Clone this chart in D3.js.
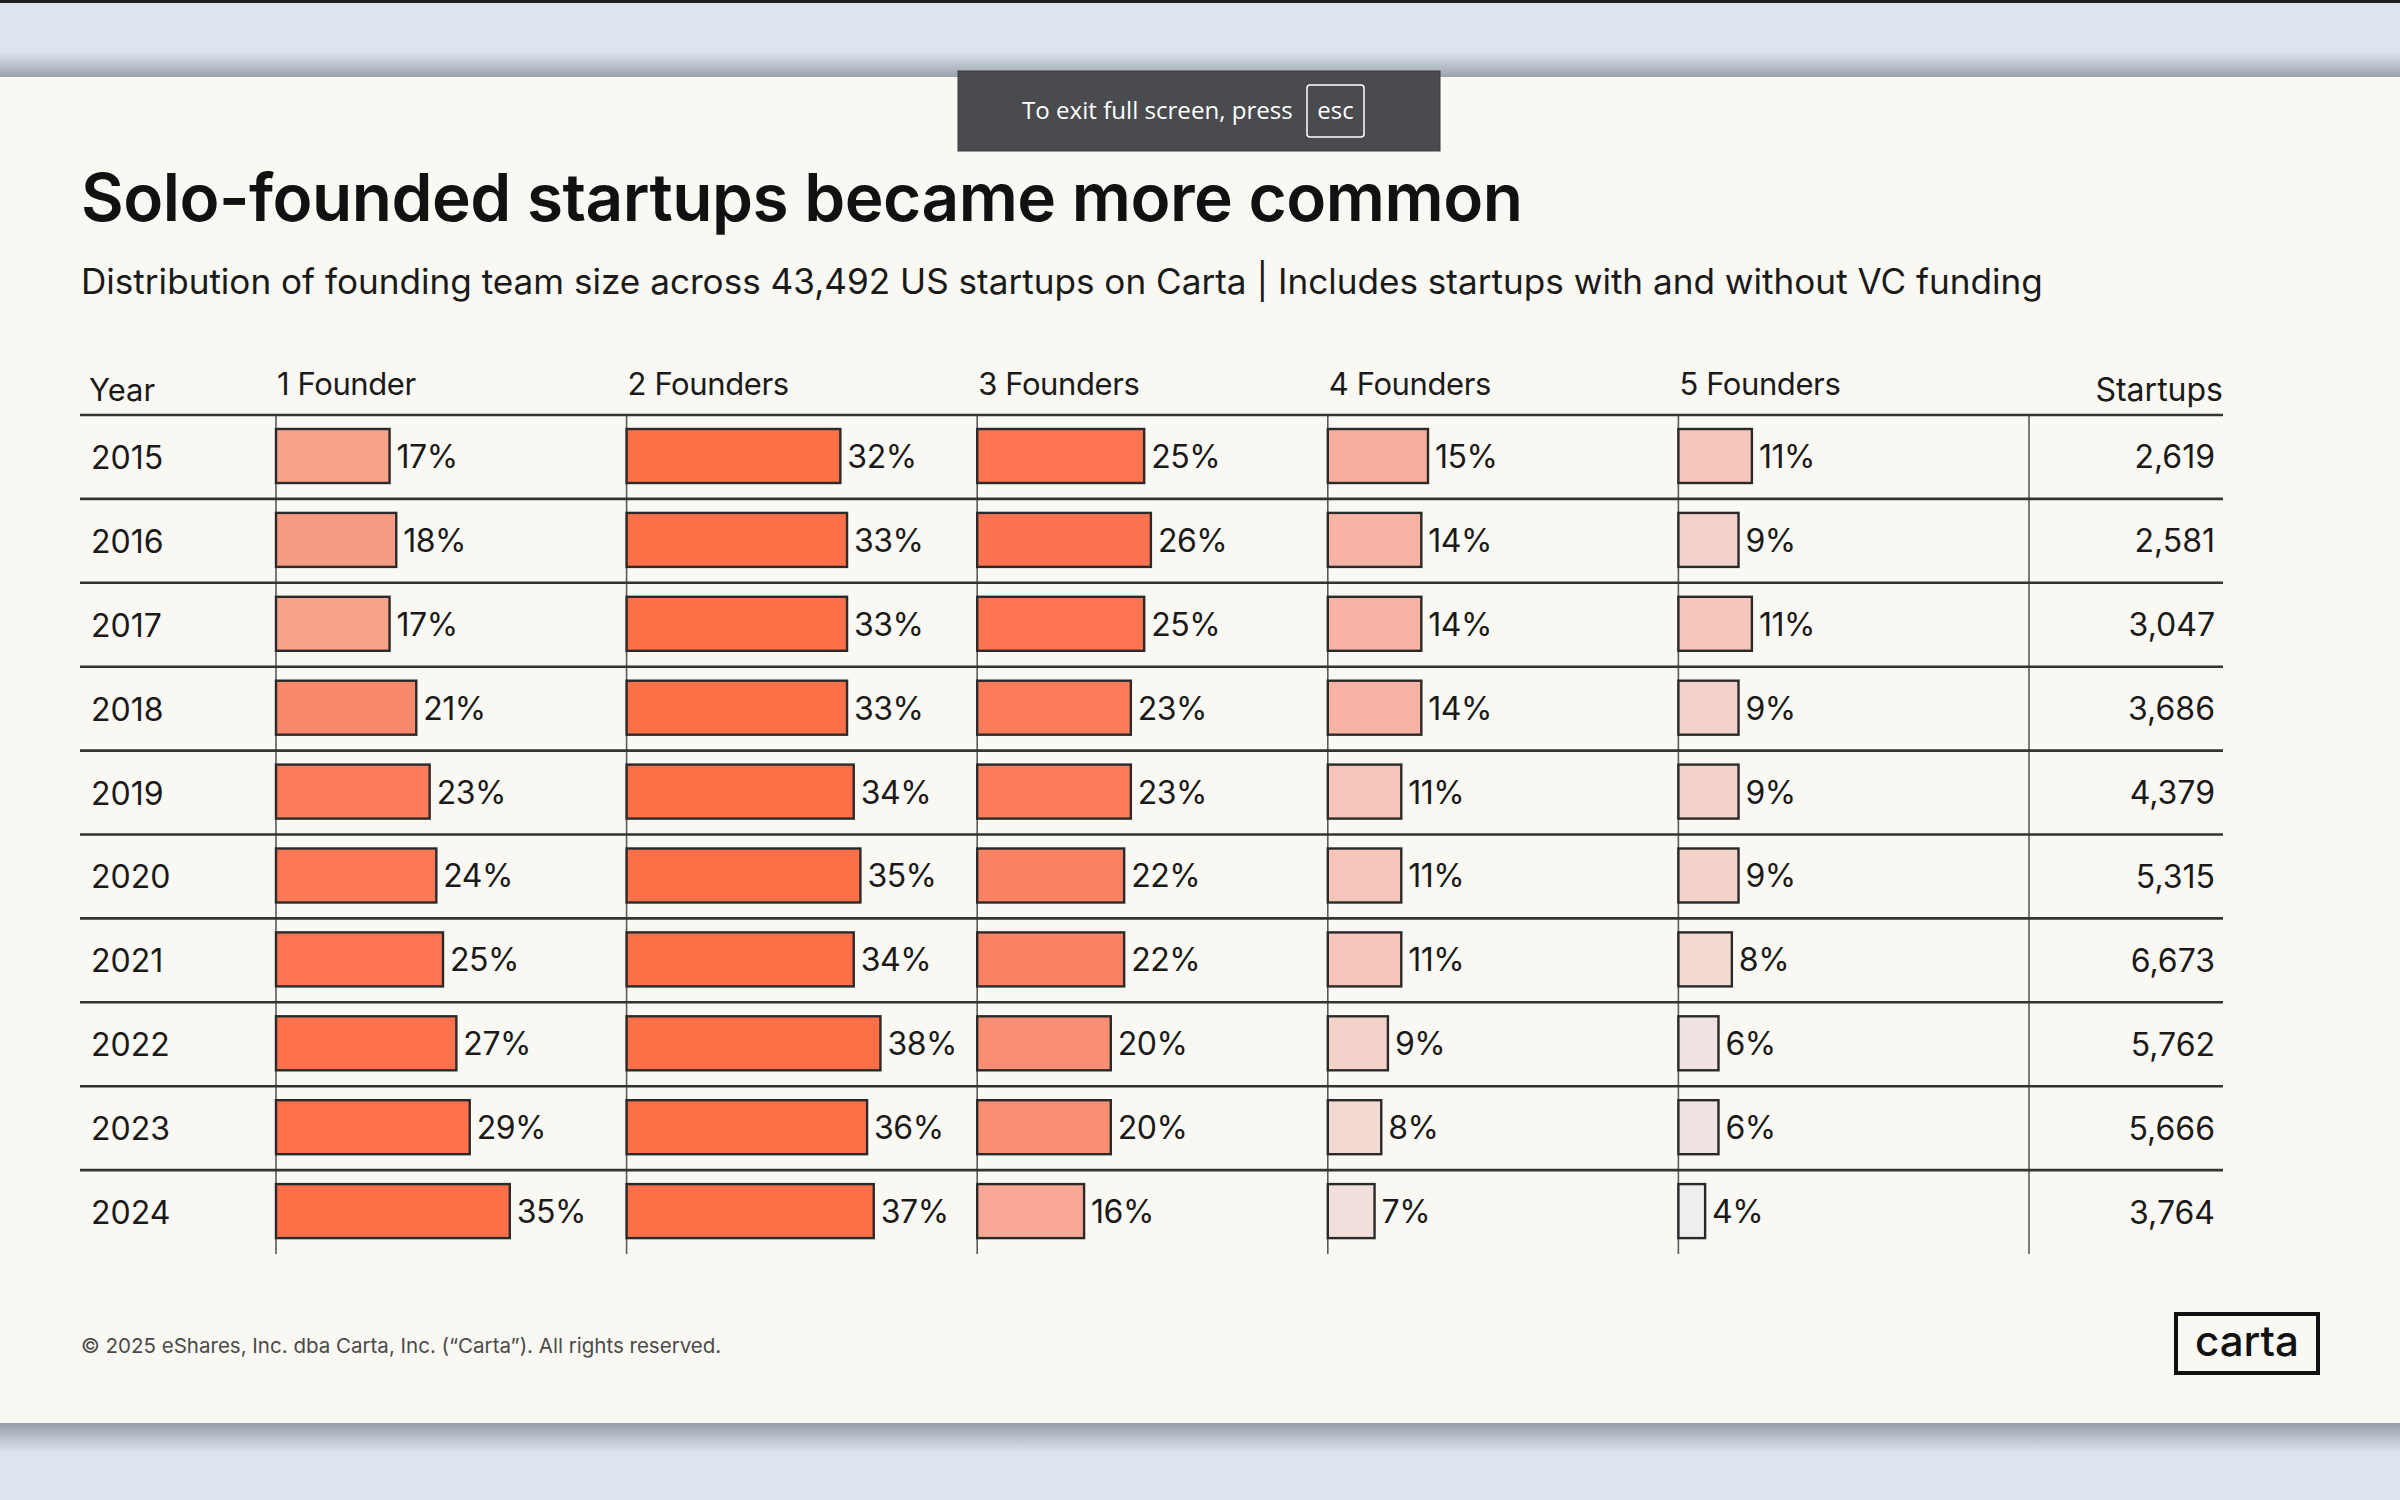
<!DOCTYPE html>
<html>
<head>
<meta charset="utf-8">
<script src="https://cdn.jsdelivr.net/npm/d3@7"></script>
<style>
  html, body { margin: 0; padding: 0; background: #dce5ef; }
  svg { display: block; }
</style>
</head>
<body>
<svg id="chart" width="2400" height="1500"></svg>
<script>
// ---------- data ----------
const years = [2015, 2016, 2017, 2018, 2019, 2020, 2021, 2022, 2023, 2024];
const columnLabels = ["1 Founder", "2 Founders", "3 Founders", "4 Founders", "5 Founders"];
const founders1 = [17, 18, 17, 21, 23, 24, 25, 27, 29, 35];
const founders2 = [32, 33, 33, 33, 34, 35, 34, 38, 36, 37];
const founders3 = [25, 26, 25, 23, 23, 22, 22, 20, 20, 16];
const founders4 = [15, 14, 14, 14, 11, 11, 11, 9, 8, 7];
const founders5 = [11, 9, 11, 9, 9, 9, 8, 6, 6, 4];
const startups = [2619, 2581, 3047, 3686, 4379, 5315, 6673, 5762, 5666, 3764];

const titleText = "Solo-founded startups became more common";
const subtitleText = "Distribution of founding team size across 43,492 US startups on Carta | Includes startups with and without VC funding";
const footerText = "\u00A9 2025 eShares, Inc. dba Carta, Inc. (\u201CCarta\u201D). All rights reserved.";

const series = [founders1, founders2, founders3, founders4, founders5];

// ---------- layout ----------
const W = 2400, H = 1500;
const FONT = "Inter, 'Noto Sans', sans-serif";
const svg = d3.select("#chart");

const defs = svg.append("defs");
const gTop = defs.append("linearGradient").attr("id", "shTop").attr("x1", 0).attr("x2", 0).attr("y1", 0).attr("y2", 1);
gTop.append("stop").attr("offset", 0).attr("stop-color", "#dce5ef");
gTop.append("stop").attr("offset", 1).attr("stop-color", "#9aa1ab");
const gBot = defs.append("linearGradient").attr("id", "shBot").attr("x1", 0).attr("x2", 0).attr("y1", 0).attr("y2", 1);
gBot.append("stop").attr("offset", 0).attr("stop-color", "#979ea8");
gBot.append("stop").attr("offset", 1).attr("stop-color", "#dce5ef");

// backdrop
svg.append("rect").attr("width", W).attr("height", H).attr("fill", "#dce5ef");
svg.append("rect").attr("x", 0).attr("y", 0).attr("width", W).attr("height", 3).attr("fill", "#1f1f22");
svg.append("rect").attr("x", 0).attr("y", 52).attr("width", W).attr("height", 25).attr("fill", "url(#shTop)");
svg.append("rect").attr("x", 0).attr("y", 1423).attr("width", W).attr("height", 30).attr("fill", "url(#shBot)");
// panel
svg.append("rect").attr("x", 0).attr("y", 77).attr("width", W).attr("height", 1346).attr("fill", "#faf8f3");

function fitWidth(sel, target) {
  const w = sel.node().getComputedTextLength();
  const fs = parseFloat(sel.attr("font-size"));
  sel.attr("font-size", fs * target / w);
}

// title & subtitle
const title = svg.append("text").attr("x", 81).attr("y", 221)
  .attr("font-family", FONT).attr("font-weight", 600).attr("font-size", 67)
  .attr("fill", "#111").attr("letter-spacing", -0.5).text(titleText);
fitWidth(title, 1442);
const subtitle = svg.append("text").attr("x", 81).attr("y", 294)
  .attr("font-family", FONT).attr("font-weight", 400).attr("font-size", 31)
  .attr("fill", "#1a1a1a").text(subtitleText);
fitWidth(subtitle, 1962);

// ---------- table scales ----------
const tableLeft = 80, tableRight = 2223;
const y = d3.scaleBand().domain(years).range([415, 1254]);
const col = d3.scaleBand().domain(columnLabels).range([276, 2029]);
const barW = d3.scaleLinear().domain([0, 100]).range([0, 668]);
const color = d3.scaleLinear()
  .domain([4, 7, 9, 11, 14, 17, 20, 23, 25, 30])
  .range(["#eeedef", "#f1dfdb", "#f3d2c9", "#f5c5b9", "#f7b4a4", "#f8a28c", "#f98e74", "#fc7c5a", "#fe7450", "#ff7049"])
  .clamp(true);

const g = svg.append("g");

// header labels
g.append("text").attr("x", 89).attr("y", 401).attr("font-family", FONT).attr("font-size", 31)
  .attr("fill", "#1a1a1a").text("Year");
g.selectAll("text.colhead").data(columnLabels).join("text").attr("class", "colhead")
  .attr("x", d => col(d) + 1).attr("y", 395).attr("font-family", FONT).attr("font-size", 31)
  .attr("fill", "#1a1a1a").attr("letter-spacing", -0.4).text(d => d);
g.append("text").attr("x", tableRight).attr("y", 401).attr("text-anchor", "end")
  .attr("font-family", FONT).attr("font-size", 32).attr("fill", "#1a1a1a").text("Startups");

// vertical column lines
const vxs = columnLabels.map(d => col(d)).concat([col.range()[1]]);
g.selectAll("line.v").data(vxs).join("line").attr("class", "v")
  .attr("x1", d => d).attr("x2", d => d).attr("y1", y.range()[0]).attr("y2", y.range()[1])
  .attr("stroke", "#5a5a5a").attr("stroke-width", 1.6);

// horizontal row lines (top of each row)
g.selectAll("line.h").data(years).join("line").attr("class", "h")
  .attr("x1", tableLeft).attr("x2", tableRight).attr("y1", d => y(d)).attr("y2", d => y(d))
  .attr("stroke", "#333").attr("stroke-width", 2.6);

// year labels
g.selectAll("text.year").data(years).join("text").attr("class", "year")
  .attr("x", 91).attr("y", d => y(d) + y.bandwidth() / 2 + 12)
  .attr("font-family", FONT).attr("font-size", 32).attr("fill", "#1a1a1a").text(d => d);

// bars
const cells = [];
series.forEach((vals, ci) => vals.forEach((v, ri) => cells.push({ col: columnLabels[ci], year: years[ri], v })));

g.selectAll("rect.bar").data(cells).join("rect").attr("class", "bar")
  .attr("x", d => col(d.col))
  .attr("y", d => y(d.year) + 14)
  .attr("width", d => barW(d.v))
  .attr("height", 54)
  .attr("fill", d => color(d.v))
  .attr("stroke", "#2a2a2a").attr("stroke-width", 2.4);

g.selectAll("text.val").data(cells).join("text").attr("class", "val")
  .attr("x", d => col(d.col) + barW(d.v) + 7)
  .attr("y", d => y(d.year) + y.bandwidth() / 2 + 11)
  .attr("font-family", FONT).attr("font-size", 32).attr("letter-spacing", -0.5)
  .attr("fill", "#1a1a1a").text(d => d.v + "%");

// startups column
g.selectAll("text.cnt").data(years).join("text").attr("class", "cnt")
  .attr("x", 2215).attr("y", (d) => y(d) + y.bandwidth() / 2 + 11.5).attr("text-anchor", "end")
  .attr("font-family", FONT).attr("font-size", 32).attr("fill", "#1a1a1a")
  .text((d, i) => d3.format(",")(startups[i]));

// footer
const foot = svg.append("text").attr("x", 81).attr("y", 1353)
  .attr("font-family", FONT).attr("font-size", 21).attr("fill", "#4a4a4a").text(footerText);
fitWidth(foot, 641);

// logo
svg.append("rect").attr("x", 2176).attr("y", 1314).attr("width", 142).attr("height", 59)
  .attr("fill", "none").attr("stroke", "#111").attr("stroke-width", 4);
const logo = svg.append("text").attr("x", 2247).attr("y", 1356).attr("text-anchor", "middle")
  .attr("font-family", FONT).attr("font-weight", 500).attr("font-size", 44).attr("fill", "#111").text("carta");
fitWidth(logo, 104);

// fullscreen notice
svg.append("rect").attr("x", 958).attr("y", 71).attr("width", 482).attr("height", 80)
  .attr("fill", "#4a4b4f").attr("stroke", "#3c3d40").attr("stroke-width", 1);
const note = svg.append("text").attr("x", 1022).attr("y", 119).attr("font-family", "'Open Sans', sans-serif")
  .attr("font-size", 24).attr("fill", "#ffffff").text("To exit full screen, press");
fitWidth(note, 271);
svg.append("rect").attr("x", 1307).attr("y", 85).attr("width", 57).attr("height", 52).attr("rx", 3)
  .attr("fill", "none").attr("stroke", "#ffffff").attr("stroke-width", 1.5);
svg.append("text").attr("x", 1335.5).attr("y", 119).attr("text-anchor", "middle")
  .attr("font-family", "'Open Sans', sans-serif").attr("font-size", 24).attr("fill", "#ffffff").text("esc");
</script>
</body>
</html>
